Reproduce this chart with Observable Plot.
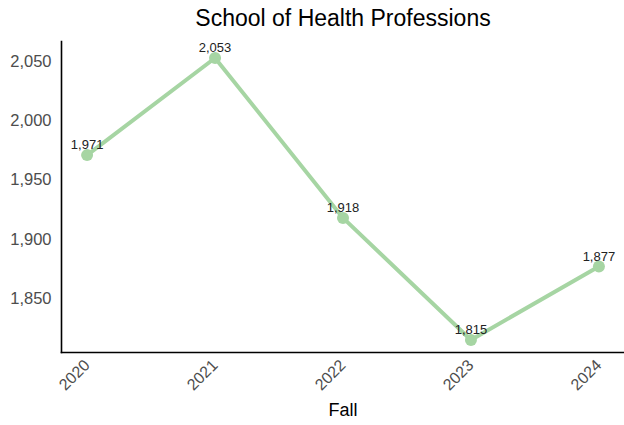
<!DOCTYPE html>
<html>
<head>
<meta charset="utf-8">
<script src="https://cdn.jsdelivr.net/npm/d3@7"></script>
<script src="https://cdn.jsdelivr.net/npm/@observablehq/plot@0.6"></script>
<style>
  html, body { margin: 0; padding: 0; background: #fff; }
  #chart svg { display: block; }
</style>
</head>
<body>
<div id="chart"></div>
<script>
const years = [2020, 2021, 2022, 2023, 2024];
const enrollment = [1971, 2053, 1918, 1815, 1877];
const yTicks = [1850, 1900, 1950, 2000, 2050];
const title = "School of Health Professions";
const xLabel = "Fall";

const data = years.map((y, i) => ({year: y, value: enrollment[i]}));
const fmt = d3.format(",");
const green = "#a6d5a3";

const chart = Plot.plot({
  width: 624,
  height: 425,
  marginLeft: 61,
  marginRight: 0,
  marginTop: 41,
  marginBottom: 73,
  style: {fontFamily: "Arial, 'Liberation Sans', sans-serif", background: "#fff"},
  x: {domain: [2019.8, 2024.2]},
  y: {domain: [1804.4, 2066.9]},
  marks: [
    Plot.axisY({ticks: yTicks, tickSize: 0, tickPadding: 10, tickFormat: fmt, fontSize: 16.5, fill: "#4d4d4d", label: null}),
    Plot.axisX({ticks: years, tickSize: 0, tickFormat: d => String(d), tickRotate: -45, tickPadding: 10, fontSize: 16, fill: "#4d4d4d", label: null}),
    Plot.frame({anchor: "left", stroke: "#000", strokeWidth: 1.6}),
    Plot.frame({anchor: "bottom", stroke: "#000", strokeWidth: 1.6}),
    Plot.line(data, {x: "year", y: "value", stroke: green, strokeWidth: 4}),
    Plot.dot(data, {x: "year", y: "value", fill: green, r: 6}),
    Plot.text(data, {x: "year", y: "value", text: d => fmt(d.value), dy: -10, fontSize: 13, fill: "#222"}),
    Plot.text([title], {frameAnchor: "top", text: d => d, dy: -32, fontSize: 23, fill: "#000"}),
    Plot.text([xLabel], {frameAnchor: "bottom", text: d => d, dy: 63, fontSize: 18, fill: "#000"})
  ]
});
document.getElementById("chart").appendChild(chart);
</script>
</body>
</html>
